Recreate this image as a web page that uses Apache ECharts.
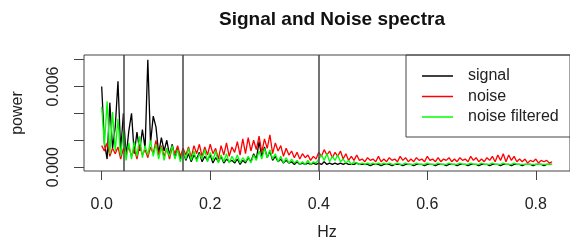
<!DOCTYPE html>
<html style="height: 100%">
<head>
    <meta charset="UTF-8" />
    <script type="text/javascript" src="https://cdn.jsdelivr.net/npm/echarts@6/dist/echarts.min.js"></script>
</head>
<body style="height: 100%; margin: 0; background: #fff">
    <div id="container" style="width: 570px; height: 242px"></div>
    <script>
        // spectra, power in units of 1e-4, one value every 0.005 Hz starting at 0
        var freqStep = 0.005;
        var signalE4 = [60, 18, 6, 48, 14, 30, 64, 12, 40, 8, 27, 40, 10, 26, 12, 28, 14, 80, 18, 38,
            30, 10, 22, 12, 20, 9, 17, 7, 14, 6, 12, 5, 10, 4, 9, 6, 11, 4, 8, 5,
            9, 3, 7, 4, 8, 3, 6, 4, 5, 3, 6, 2, 5, 3, 7, 4, 10, 6, 19, 8,
            15, 7, 12, 5, 8, 4, 6, 3, 5, 3, 4, 2, 4, 2, 3, 2, 3, 2, 3, 2,
            3, 2, 4, 2, 3, 2, 3, 2, 3, 2, 3, 2, 2, 2, 3, 2, 2, 2, 2, 1,
            2, 2, 2, 1, 2, 2, 2, 1, 2, 2, 2, 1, 2, 2, 2, 1, 2, 2, 2, 1,
            2, 2, 2, 1, 2, 2, 2, 1, 2, 2, 2, 1, 2, 2, 2, 1, 2, 2, 2, 1,
            2, 2, 2, 1, 2, 2, 2, 1, 2, 2, 2, 1, 2, 2, 2, 1, 2, 2, 2, 1,
            2, 2, 2, 1, 2, 2, 2];
        var noiseE4 = [16, 12, 18, 8, 14, 10, 15, 6, 14, 10, 15, 8, 14, 6, 16, 9, 13, 7, 15, 10,
            20, 9, 16, 8, 14, 6, 15, 10, 16, 8, 14, 9, 15, 7, 16, 10, 17, 8, 15, 9,
            17, 10, 14, 6, 16, 9, 18, 8, 15, 11, 19, 9, 21, 10, 22, 12, 20, 13, 23, 11,
            21, 14, 24, 10, 18, 12, 16, 8, 14, 9, 12, 7, 11, 6, 10, 7, 9, 5, 8, 6,
            11, 8, 13, 9, 12, 7, 11, 8, 12, 6, 10, 5, 8, 5, 9, 5, 6, 4, 7, 5,
            6, 4, 8, 4, 6, 4, 7, 5, 6, 4, 8, 5, 7, 4, 6, 4, 7, 5, 6, 4,
            8, 5, 6, 4, 7, 4, 6, 5, 7, 4, 6, 4, 7, 5, 6, 4, 8, 5, 7, 4,
            6, 4, 7, 5, 8, 4, 9, 5, 10, 4, 9, 5, 8, 4, 6, 4, 6, 3, 5, 4,
            6, 3, 5, 4, 5, 3, 4];
        var filteredE4 = [45, 16, 49, 10, 41, 12, 36, 8, 27, 5, 18, 6, 19, 8, 23, 7, 16, 9, 20, 8,
            17, 6, 15, 5, 14, 8, 16, 6, 13, 4, 12, 6, 14, 5, 12, 4, 10, 6, 13, 4,
            11, 5, 12, 3, 9, 4, 10, 3, 8, 4, 9, 3, 7, 4, 8, 3, 9, 5, 12, 6,
            14, 7, 13, 6, 10, 4, 8, 3, 7, 3, 6, 3, 5, 2, 4, 2, 5, 2, 4, 3,
            6, 9, 5, 10, 4, 8, 5, 9, 4, 6, 3, 5, 2, 4, 3, 2, 3, 2, 3, 2,
            3, 2, 3, 2, 3, 2, 3, 2, 2, 3, 2, 2, 3, 2, 2, 2, 3, 2, 2, 2,
            3, 2, 2, 2, 3, 2, 2, 2, 3, 2, 2, 2, 3, 2, 2, 2, 3, 2, 2, 2,
            3, 2, 2, 2, 3, 2, 2, 2, 3, 2, 2, 2, 3, 2, 2, 2, 2, 2, 2, 2,
            2, 2, 2, 2, 2, 2, 2];
        var seriesNames = ["signal", "noise", "noise filtered"];
        var seriesColors = ["#000000", "#ff0000", "#00ff00"];
        var bandLines = [0.04, 0.15, 0.4];
        var xTicks = [0, 0.2, 0.4, 0.6, 0.8];
        var yTicks = [0, 0.002, 0.004, 0.006, 0.008];
        var yLabels = [0, 0.006];

        function toPoints(values) {
            return values.map(function (v, i) {
                return [i * freqStep, v / 1e4];
            });
        }

        var dom = document.getElementById("container");
        var chart = echarts.init(dom, null, { renderer: "canvas" });
        var font = "Liberation Sans, Arial, sans-serif";
        var axisGrey = "#444";

        var series = [signalE4, noiseE4, filteredE4].map(function (vals, k) {
            return {
                name: seriesNames[k],
                type: "line",
                data: toPoints(vals),
                symbol: "none",
                animation: false,
                lineStyle: { color: seriesColors[k], width: 1.3 },
                itemStyle: { color: seriesColors[k] }
            };
        });
        // vertical band limits, drawn over the curves
        series[2].markLine = {
            silent: true,
            symbol: "none",
            animation: false,
            label: { show: false },
            lineStyle: { color: "#444", width: 1.5, type: "solid" },
            data: bandLines.map(function (x) { return { xAxis: x }; })
        };

        var option = {
            animation: false,
            title: {
                text: "Signal and Noise spectra",
                left: 327,
                top: 5,
                textAlign: "center",
                textStyle: { fontFamily: font, fontSize: 19, fontWeight: "bold", color: "#111" }
            },
            grid: {
                left: 84, top: 55, width: 487, height: 118,
                show: true, borderColor: axisGrey, borderWidth: 1
            },
            legend: {
                orient: "vertical",
                left: 406, top: 55,
                padding: [13, 12, 12, 16],
                borderColor: axisGrey, borderWidth: 1, borderRadius: 0,
                icon: "rect",
                itemWidth: 31, itemHeight: 1.5, itemGap: 4.5,
                textStyle: { fontFamily: font, fontSize: 16, color: "#222", lineHeight: 16, padding: [0, 0, 0, 10] },
                data: seriesNames
            },
            xAxis: {
                type: "value",
                min: -0.0326, max: 0.863,
                name: "Hz",
                nameLocation: "middle",
                nameGap: 54,
                nameTextStyle: { fontFamily: font, fontSize: 16, color: "#222" },
                axisLine: { show: false, onZero: false },
                splitLine: { show: false },
                axisTick: { show: true, inside: false, length: 9, customValues: xTicks, lineStyle: { color: axisGrey } },
                axisLabel: {
                    customValues: xTicks, margin: 26,
                    fontFamily: font, fontSize: 16, color: "#222",
                    formatter: function (v) { return v.toFixed(1); }
                }
            },
            yAxis: {
                type: "value",
                min: -0.00029, max: 0.00835,
                name: "power",
                nameLocation: "middle",
                nameGap: 58,
                nameTextStyle: { fontFamily: font, fontSize: 16, color: "#222" },
                axisLine: { show: false, onZero: false },
                splitLine: { show: false },
                axisTick: { show: true, inside: false, length: 10, customValues: yTicks, lineStyle: { color: axisGrey } },
                axisLabel: {
                    customValues: yLabels, margin: 22, rotate: 90,
                    fontFamily: font, fontSize: 16, color: "#222",
                    formatter: function (v) { return v.toFixed(3); }
                }
            },
            series: series
        };
        chart.setOption(option);
    </script>
</body>
</html>
